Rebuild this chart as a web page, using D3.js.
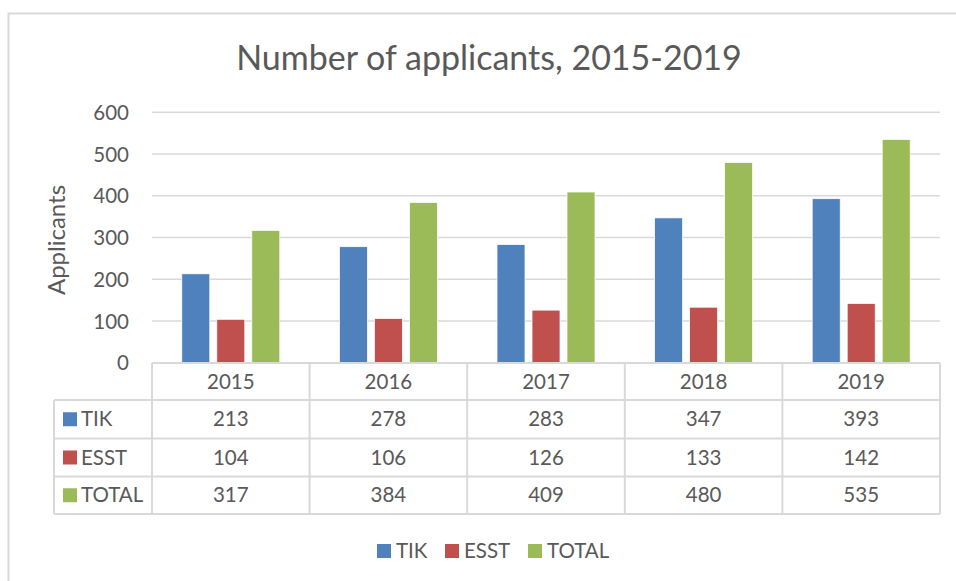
<!DOCTYPE html>
<html>
<head>
<meta charset="utf-8">
<script src="https://cdn.jsdelivr.net/npm/d3@7"></script>
<style>
  body { margin: 0; background: #fff; }
  svg text { font-family: Lato, "Open Sans", sans-serif; fill: #595959; }
</style>
</head>
<body>
<div id="chart"></div>
<script>
// data
const years = ["2015", "2016", "2017", "2018", "2019"];
const seriesNames = ["TIK", "ESST", "TOTAL"];
const tikValues = [213, 278, 283, 347, 393];
const esstValues = [104, 106, 126, 133, 142];
const totalValues = [317, 384, 409, 480, 535];
const yTicks = [0, 100, 200, 300, 400, 500, 600];
const colors = ["#4f81bd", "#c0504d", "#9bbb59"];

const series = [tikValues, esstValues, totalValues];

const width = 956, height = 581;
const plot = {left: 152, right: 940, top: 112.3, bottom: 362.7};
const gridColor = "#d9d9d9";
const fs = "20.5px";

const svg = d3.select("#chart").append("svg")
    .attr("width", width)
    .attr("height", height);

// chart border
svg.append("rect")
    .attr("x", 8.5).attr("y", 13.5)
    .attr("width", 960).attr("height", 600)
    .attr("fill", "none")
    .attr("stroke", gridColor)
    .attr("stroke-width", 2);

// title
svg.append("text")
    .attr("x", 489).attr("y", 70)
    .attr("text-anchor", "middle")
    .style("font-size", "34px")
    .text("Number of applicants, 2015-2019");

// scales
const groupW = 98;
const x = d3.scaleBand().domain(years).range([plot.left, plot.right]);
const y = d3.scaleLinear().domain([0, 600]).range([plot.bottom, plot.top]);
const xs = d3.scaleBand().domain(seriesNames)
    .range([0, groupW]).paddingInner(0.2);

// gridlines
svg.append("g")
    .selectAll("line")
    .data(yTicks.filter(d => d > 0))
    .join("line")
    .attr("x1", plot.left).attr("x2", plot.right)
    .attr("y1", d => y(d)).attr("y2", d => y(d))
    .attr("stroke", gridColor)
    .attr("stroke-width", 1.5);

// y axis labels
const yAxis = svg.append("g")
    .attr("transform", `translate(${plot.left - 23},0)`)
    .call(d3.axisLeft(y).tickValues(yTicks).tickSize(0).tickPadding(0));
yAxis.select(".domain").remove();
yAxis.selectAll("text")
    .attr("dy", "0.35em")
    .style("font-size", fs)
    .style("font-family", "Lato, sans-serif")
    .attr("fill", "#595959");

svg.append("text")
    .attr("transform", "rotate(-90)")
    .attr("x", -240).attr("y", 65)
    .attr("text-anchor", "middle")
    .style("font-size", "24px")
    .text("Applicants");

// bars
const groups = svg.append("g")
    .selectAll("g")
    .data(years)
    .join("g")
    .attr("transform", d => `translate(${x(d) + (x.bandwidth() - groupW) / 2},0)`);

groups.selectAll("rect")
    .data((d, i) => seriesNames.map((s, j) => ({s, v: series[j][i], c: colors[j]})))
    .join("rect")
    .attr("x", d => xs(d.s))
    .attr("width", xs.bandwidth())
    .attr("y", d => y(d.v))
    .attr("height", d => y(0) - y(d.v))
    .attr("fill", d => d.c)
    .attr("stroke", "#fff")
    .attr("stroke-width", 0.75);

// data table
const tableLeft = 54;
const rowY = [363, 400, 438.5, 476.5, 514];
const table = svg.append("g");
const lineAttrs = sel => sel.attr("stroke", gridColor).attr("stroke-width", 2).attr("fill", "none");

// horizontal lines
table.append("line").call(lineAttrs)
    .attr("x1", plot.left).attr("x2", plot.right).attr("y1", rowY[0]).attr("y2", rowY[0]);
rowY.slice(1).forEach(ry => {
    table.append("line").call(lineAttrs)
        .attr("x1", tableLeft).attr("x2", plot.right).attr("y1", ry).attr("y2", ry);
});
// vertical lines
table.append("line").call(lineAttrs)
    .attr("x1", tableLeft).attr("x2", tableLeft).attr("y1", rowY[1]).attr("y2", rowY[4]);
[plot.left, ...years.map(d => x(d) + x.bandwidth())].forEach(vx => {
    table.append("line").call(lineAttrs)
        .attr("x1", vx).attr("x2", vx).attr("y1", rowY[0]).attr("y2", rowY[4]);
});

// header
table.selectAll(".hdr")
    .data(years)
    .join("text")
    .attr("class", "hdr")
    .attr("x", d => x(d) + x.bandwidth() / 2)
    .attr("y", (rowY[0] + rowY[1]) / 2)
    .attr("dy", "0.35em")
    .attr("text-anchor", "middle")
    .style("font-size", fs)
    .text(d => d);

seriesNames.forEach((name, j) => {
    const cy = (rowY[j + 1] + rowY[j + 2]) / 2;
    table.append("rect")
        .attr("x", 63).attr("y", cy - 7)
        .attr("width", 14).attr("height", 14)
        .attr("fill", colors[j]);
    table.append("text")
        .attr("x", 81).attr("y", cy)
        .attr("dy", "0.35em")
        .style("font-size", fs)
        .text(name);
    table.selectAll(".v" + j)
        .data(series[j])
        .join("text")
        .attr("class", "v" + j)
        .attr("x", (d, i) => x(years[i]) + x.bandwidth() / 2)
        .attr("y", cy)
        .attr("dy", "0.35em")
        .attr("text-anchor", "middle")
        .style("font-size", fs)
        .text(d => d);
});

// legend
const legendX = [377, 445, 528];
const legend = svg.append("g");
seriesNames.forEach((name, j) => {
    legend.append("rect")
        .attr("x", legendX[j]).attr("y", 544)
        .attr("width", 14).attr("height", 14)
        .attr("fill", colors[j]);
    legend.append("text")
        .attr("x", legendX[j] + 19).attr("y", 551)
        .attr("dy", "0.35em")
        .style("font-size", fs)
        .text(name);
});
</script>
</body>
</html>
